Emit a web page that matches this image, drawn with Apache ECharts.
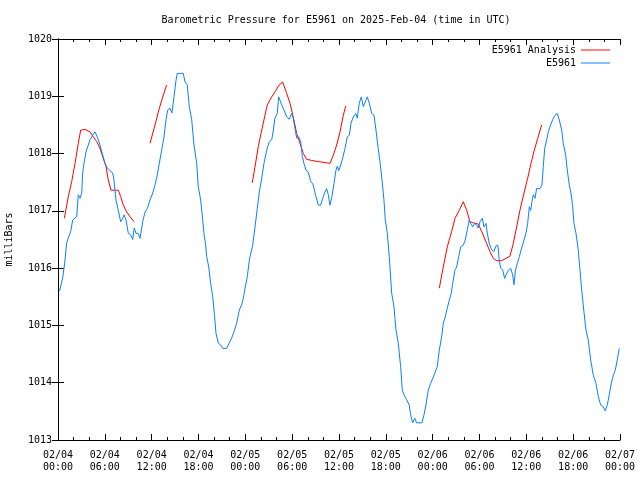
<!DOCTYPE html>
<html>
<head>
<meta charset="utf-8">
<script src="https://cdn.jsdelivr.net/npm/echarts@6/dist/echarts.min.js"></script>
<style>html,body{margin:0;padding:0;background:#fff}#c{width:640px;height:480px}</style>
</head>
<body>
<div id="c"></div>
<script>
const titleText = 'Barometric Pressure for E5961 on 2025-Feb-04 (time in UTC)';
const yAxisTitle = 'milliBars';
const seriesNames = ['E5961 Analysis', 'E5961'];
const xTickLabels = ['02/04\n00:00','02/04\n06:00','02/04\n12:00','02/04\n18:00','02/05\n00:00','02/05\n06:00','02/05\n12:00','02/05\n18:00','02/06\n00:00','02/06\n06:00','02/06\n12:00','02/06\n18:00','02/07\n00:00'];

// hours since 02/04 00:00 UTC
const blueHours = [0.2,0.6,0.86,1.11,1.37,1.63,1.88,2.40,2.60,2.82,3.04,3.16,3.33,3.59,3.88,4.10,4.45,4.74,5.03,5.38,5.73,6.02,6.32,6.66,7.01,7.17,7.43,7.72,8.03,8.29,8.46,8.71,9.01,9.31,9.57,9.77,9.99,10.29,10.50,10.85,11.15,11.44,11.79,12.13,12.43,12.72,12.98,13.28,13.58,13.84,14.05,14.35,14.60,14.86,15.12,15.28,16.05,16.27,16.56,16.82,17.13,17.42,17.77,17.97,18.28,18.54,18.72,18.90,19.05,19.31,19.56,19.82,20.07,20.24,20.54,20.84,21.10,21.61,21.94,22.25,22.55,22.89,23.23,23.53,23.74,23.96,24.25,24.51,24.69,24.94,25.24,25.53,25.79,26.10,26.39,26.74,27.07,27.38,27.59,27.80,28.09,28.27,28.44,28.66,28.95,29.30,29.63,29.94,30.14,30.36,30.58,30.84,31.09,31.30,31.51,31.77,32.07,32.37,32.63,32.80,33.05,33.35,33.65,33.91,34.20,34.42,34.63,34.85,35.10,35.36,35.61,35.78,35.96,36.22,36.47,36.77,37.06,37.32,37.54,37.83,38.14,38.34,38.60,38.86,39.11,39.37,39.62,39.88,40.19,40.48,40.74,40.99,41.25,41.51,41.76,41.93,42.19,42.44,42.75,43.04,43.30,43.59,43.90,44.11,44.32,44.67,45.00,45.18,45.44,45.70,45.95,46.63,46.89,47.14,47.44,47.75,48.08,48.34,48.59,48.85,49.15,49.36,49.62,49.87,50.13,50.38,50.56,50.86,51.08,51.33,51.59,51.92,52.18,52.44,52.69,52.87,53.13,53.38,53.64,53.84,54.06,54.36,54.57,54.83,55.00,55.25,55.56,55.85,56.11,56.37,56.53,56.71,56.97,57.22,57.39,57.69,57.99,58.25,58.42,58.59,58.84,59.10,59.40,59.70,59.95,60.17,60.38,60.56,60.72,60.89,61.11,61.32,61.75,62.00,62.17,62.35,62.61,62.81,63.12,63.37,63.67,63.96,64.22,64.53,64.73,65.04,65.25,65.50,65.72,65.94,66.10,66.36,66.65,66.87,67.09,67.38,67.64,67.93,68.24,68.58,68.92,69.22,69.52,69.86,70.11,70.37,70.63,70.88,71.14,71.40,71.65,71.91];
const bluePressure = [1015.60,1015.83,1016.09,1016.44,1016.55,1016.64,1016.84,1016.90,1017.28,1017.22,1017.31,1017.66,1017.83,1018.03,1018.15,1018.24,1018.32,1018.38,1018.29,1018.15,1017.97,1017.83,1017.75,1017.70,1017.66,1017.54,1017.19,1017.01,1016.81,1016.87,1016.93,1016.84,1016.61,1016.58,1016.50,1016.70,1016.61,1016.60,1016.52,1016.81,1016.98,1017.04,1017.19,1017.31,1017.45,1017.63,1017.83,1018.06,1018.29,1018.59,1018.76,1018.79,1018.71,1018.99,1019.28,1019.40,1019.40,1019.25,1019.20,1018.82,1018.59,1018.15,1017.83,1017.42,1017.19,1016.84,1016.58,1016.43,1016.20,1016.02,1015.73,1015.50,1015.15,1014.86,1014.69,1014.66,1014.60,1014.60,1014.69,1014.78,1014.89,1015.04,1015.27,1015.36,1015.47,1015.65,1015.85,1016.14,1016.17,1016.40,1016.72,1017.04,1017.33,1017.57,1017.83,1018.06,1018.21,1018.24,1018.41,1018.62,1018.70,1018.99,1018.96,1018.85,1018.76,1018.64,1018.60,1018.70,1018.62,1018.44,1018.27,1018.29,1018.21,1017.95,1017.83,1017.71,1017.68,1017.51,1017.48,1017.39,1017.25,1017.10,1017.10,1017.22,1017.33,1017.39,1017.28,1017.10,1017.25,1017.48,1017.71,1017.78,1017.70,1017.80,1017.92,1018.09,1018.29,1018.32,1018.53,1018.64,1018.70,1018.62,1018.88,1018.99,1018.82,1018.90,1018.99,1018.88,1018.70,1018.67,1018.41,1018.12,1017.86,1017.54,1017.19,1016.84,1016.61,1016.20,1015.56,1015.33,1014.92,1014.69,1014.28,1013.87,1013.79,1013.70,1013.61,1013.44,1013.30,1013.38,1013.30,1013.30,1013.44,1013.61,1013.87,1013.99,1014.10,1014.19,1014.28,1014.57,1014.80,1015.04,1015.15,1015.30,1015.44,1015.56,1015.73,1015.97,1016.02,1016.20,1016.37,1016.40,1016.49,1016.67,1016.84,1016.78,1016.72,1016.78,1016.75,1016.70,1016.81,1016.87,1016.72,1016.78,1016.61,1016.43,1016.32,1016.29,1016.39,1016.39,1016.14,1016.00,1015.97,1015.82,1015.88,1015.96,1016.00,1015.88,1015.71,1015.95,1016.08,1016.20,1016.35,1016.49,1016.61,1016.78,1017.07,1017.01,1017.16,1017.28,1017.22,1017.39,1017.39,1017.45,1017.77,1018.09,1018.24,1018.38,1018.50,1018.59,1018.67,1018.70,1018.59,1018.41,1018.18,1017.97,1017.71,1017.45,1017.31,1017.07,1016.78,1016.61,1016.32,1015.97,1015.62,1015.24,1014.92,1014.75,1014.40,1014.13,1013.99,1013.76,1013.61,1013.58,1013.51,1013.61,1013.79,1013.99,1014.13,1014.22,1014.40,1014.60];

// analysis segments separated by null pressures (gaps)
const analysisHours = [0.81,1.32,1.75,2.18,2.60,2.91,3.46,3.67,4.10,4.52,4.96,5.38,5.80,6.15,6.44,6.79,7.73,8.03,8.37,8.80,9.22,9.74,
  10.8,
  11.79,12.43,12.98,13.49,13.92,
  19.0,
  24.89,25.24,25.66,26.10,26.52,26.81,27.38,27.80,28.35,28.78,29.30,29.72,30.14,30.58,31.00,31.43,31.86,32.50,33.35,34.33,34.85,35.27,35.70,36.13,36.55,36.86,
  42.0,
  48.85,49.36,49.87,50.43,50.86,51.41,51.92,52.36,52.78,53.20,53.84,54.28,54.83,55.34,55.77,56.20,56.84,57.39,57.90,58.33,58.76,59.18,59.70,60.17,60.60,61.02,61.45,61.96];
const analysisPressure = [1016.87,1017.25,1017.51,1017.83,1018.18,1018.41,1018.42,1018.44,1018.38,1018.29,1018.21,1018.09,1017.92,1017.77,1017.54,1017.36,1017.36,1017.25,1017.10,1016.98,1016.90,1016.81,
  null,
  1018.18,1018.50,1018.79,1019.02,1019.20,
  null,
  1017.49,1017.77,1018.12,1018.41,1018.67,1018.85,1018.99,1019.08,1019.20,1019.25,1019.05,1018.88,1018.64,1018.35,1018.18,1018.00,1017.90,1017.88,1017.86,1017.84,1017.83,1017.97,1018.15,1018.38,1018.67,1018.83,
  null,
  1015.65,1016.02,1016.37,1016.64,1016.87,1017.01,1017.16,1017.01,1016.81,1016.79,1016.77,1016.64,1016.46,1016.29,1016.17,1016.13,1016.13,1016.17,1016.21,1016.43,1016.72,1017.01,1017.31,1017.57,1017.83,1018.06,1018.26,1018.50];

const FONT = 'DejaVu Sans Mono';
const blueData = blueHours.map((h, i) => [h, bluePressure[i]]);
const redData = analysisHours.map((h, i) => [h, analysisPressure[i] === null ? '-' : analysisPressure[i]]);

const chart = echarts.init(document.getElementById('c'), null, {renderer: 'canvas'});
const baseX = {
  type: 'value', min: 0, max: 72, interval: 6,
  axisLine: {show: true, lineStyle: {color: '#000', width: 1}},
  axisTick: {show: true, inside: true, length: 6, lineStyle: {color: '#000'}},
  minorTick: {show: true, splitNumber: 3, length: 3, lineStyle: {color: '#000'}},
  splitLine: {show: false}, minorSplitLine: {show: false}
};
const baseY = {
  type: 'value', min: 1013, max: 1020, interval: 1,
  axisLine: {show: true, lineStyle: {color: '#000', width: 1}},
  axisTick: {show: true, inside: true, length: 6, lineStyle: {color: '#000'}},
  splitLine: {show: false}
};
const lineIcon = 'path://M0,0H30V1H0Z';
chart.setOption({
  animation: false,
  backgroundColor: '#fff',
  title: {
    text: titleText, left: 331, top: 10, textAlign: 'center',
    textStyle: {fontFamily: FONT, fontSize: 10, fontWeight: 'normal', color: '#000'}
  },
  legend: {
    orient: 'vertical', right: 25, top: 40, align: 'right',
    itemWidth: 29, itemHeight: 11, itemGap: 3, selectedMode: false,
    symbolKeepAspect: true,
    data: seriesNames.map(n => ({name: n, icon: lineIcon})),
    textStyle: {fontFamily: FONT, fontSize: 10, color: '#000'}
  },
  grid: {left: 58, right: 20, top: 39, bottom: 40, containLabel: false, outerBoundsMode: 'none'},
  xAxis: [
    Object.assign({}, baseX, {
      position: 'bottom',
      axisLabel: {
        show: true, margin: 9, lineHeight: 12, color: '#000', fontFamily: FONT, fontSize: 10,
        showMinLabel: true, showMaxLabel: true,
        formatter: v => xTickLabels[Math.round(v / 6)]
      }
    }),
    Object.assign({}, baseX, {position: 'top', axisLabel: {show: false}})
  ],
  yAxis: [
    Object.assign({}, baseY, {
      position: 'left',
      name: yAxisTitle, nameLocation: 'middle', nameGap: 44, nameRotate: 90,
      nameTextStyle: {fontFamily: FONT, fontSize: 10, color: '#000'},
      axisLabel: {show: true, margin: 6, color: '#000', fontFamily: FONT, fontSize: 10,
        formatter: v => String(v)}
    }),
    Object.assign({}, baseY, {position: 'right', axisLabel: {show: false}})
  ],
  series: [
    {
      name: seriesNames[0], type: 'line', xAxisIndex: 0, yAxisIndex: 0,
      data: redData, symbol: 'none', showSymbol: false, connectNulls: false,
      lineStyle: {color: '#ff0000', width: 1}, itemStyle: {color: '#ff0000'}
    },
    {
      name: seriesNames[1], type: 'line', xAxisIndex: 0, yAxisIndex: 0,
      data: blueData, symbol: 'none', showSymbol: false,
      lineStyle: {color: '#0a80ff', width: 1}, itemStyle: {color: '#0a80ff'}
    }
  ]
});
</script>
</body>
</html>
